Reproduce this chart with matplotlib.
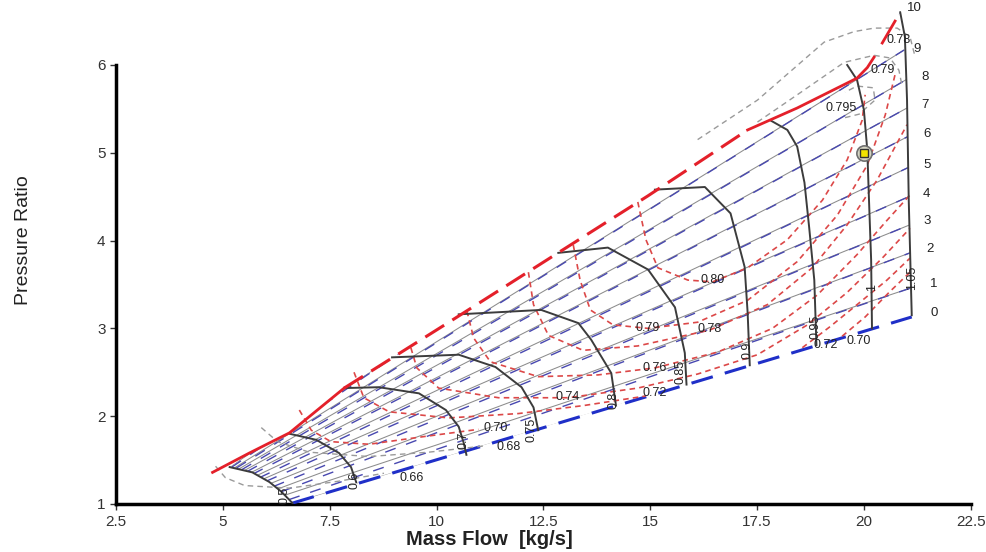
import matplotlib.pyplot as plt
from matplotlib.patches import Polygon

plt.rcParams['font.family'] = ['Liberation Sans', 'DejaVu Sans']
plt.rcParams['lines.scale_dashes'] = False

# ---- axes ----
x_ticks = [2.5, 5, 7.5, 10, 12.5, 15, 17.5, 20, 22.5]
x_tick_labels = ['2.5', '5', '7.5', '10', '12.5', '15', '17.5', '20', '22.5']
y_ticks = [1, 2, 3, 4, 5, 6]

# ---- surge line (pieces) ----
surge_low_x = [4.76, 5.62, 6.56, 7.84]
surge_low_y = [1.36, 1.58, 1.81, 2.32]
surge_mid_x = [7.84, 10.29, 12.78, 14.95, 17.28]
surge_mid_y = [2.32, 3.07, 3.84, 4.51, 5.26]
surge_high_x = [17.28, 18.44, 19.84, 20.08, 20.24]
surge_high_y = [5.26, 5.51, 5.85, 5.97, 6.09]
surge_top_x = [20.43, 20.73]
surge_top_y = [6.25, 6.50]

# ---- speed lines ----
speed_labels = ['0.5', '0.6', '0.7', '0.75', '0.8', '0.85', '0.9', '0.95', '1', '1.05']
speed_x = [
    [5.16, 5.69, 6.09, 6.37, 6.63],
    [6.56, 7.19, 7.72, 8.00, 8.12],
    [7.84, 8.65, 9.59, 10.22, 10.52, 10.64, 10.70],
    [8.96, 10.52, 11.38, 11.99, 12.27, 12.38],
    [10.52, 12.45, 13.32, 13.62, 14.09, 14.20],
    [12.85, 14.01, 14.95, 15.58, 15.81, 15.85],
    [15.11, 16.28, 16.88, 17.21, 17.28, 17.33],
    [17.81, 18.21, 18.44, 18.61, 18.72, 18.84, 18.89],
    [19.61, 19.84, 20.00, 20.08, 20.12, 20.17, 20.19],
    [20.85, 20.96, 21.01, 21.05, 21.12],
]
speed_y = [
    [1.42, 1.36, 1.25, 1.14, 1.01],
    [1.80, 1.73, 1.58, 1.42, 1.25],
    [2.32, 2.33, 2.26, 2.07, 1.88, 1.69, 1.56],
    [2.67, 2.70, 2.56, 2.33, 2.10, 1.84],
    [3.16, 3.21, 3.06, 2.87, 2.49, 2.12],
    [3.86, 3.92, 3.67, 3.24, 2.72, 2.36],
    [4.58, 4.61, 4.31, 3.70, 3.18, 2.58],
    [5.37, 5.26, 5.07, 4.66, 4.15, 3.55, 2.81],
    [6.00, 5.83, 5.49, 5.03, 4.46, 3.78, 3.00],
    [6.60, 6.32, 5.60, 4.46, 3.15],
]
speed_label_x = [6.44, 8.07, 10.64, 12.22, 14.13, 15.72, 17.28, 18.86, 20.19, 21.12]
speed_label_y = [1.10, 1.27, 1.73, 1.84, 2.18, 2.50, 2.75, 3.02, 3.47, 3.57]

# ---- beta lines (gray solid) and blue dashed lines ----
beta_labels = ['0', '1', '2', '3', '4', '5', '6', '7', '8', '9', '10']
beta_x0 = [6.63, 6.45, 6.28, 6.10, 5.93, 5.78, 5.63, 5.50, 5.38, 5.27, 5.16]
beta_y0 = [1.01, 1.10, 1.17, 1.23, 1.28, 1.32, 1.35, 1.38, 1.40, 1.41, 1.42]
beta_x1 = [21.12, 21.10, 21.08, 21.08, 21.05, 21.03, 21.01, 21.01, 20.98, 20.94, 20.85]
beta_y1 = [3.13, 3.46, 3.86, 4.18, 4.50, 4.83, 5.18, 5.51, 5.83, 6.17, 6.60]
blue_x0 = [6.55, 6.37, 6.19, 6.02, 5.86, 5.70, 5.57, 5.44, 5.32, 5.21]
blue_y0 = [1.05, 1.14, 1.20, 1.26, 1.30, 1.34, 1.37, 1.39, 1.41, 1.42]
beta_label_x = [21.64, 21.64, 21.54, 21.47, 21.47, 21.47, 21.47, 21.43, 21.43, 21.24, 21.19]
beta_label_y = [3.18, 3.51, 3.90, 4.22, 4.53, 4.86, 5.21, 5.54, 5.86, 6.18, 6.65]

# ---- efficiency contours ----
red_contours_x = [
    [6.79, 7.07, 7.53, 8.42, 9.59, 10.98],
    [19.49, 20.03, 20.59, 21.08],
    [8.07, 8.30, 8.89, 10.29, 11.92, 13.43, 14.90],
    [18.56, 19.21, 19.89, 20.54, 21.08],
    [9.40, 9.54, 10.05, 11.45, 13.08, 14.71, 16.11, 17.51, 18.68, 19.61, 20.43, 21.08],
    [10.71, 10.87, 11.26, 12.38, 13.78, 15.11, 16.58, 17.86, 18.91, 19.84, 20.54, 21.08],
    [12.15, 12.27, 12.62, 13.43, 14.71, 16.39, 17.74, 18.79, 19.61, 20.31, 21.01],
    [13.20, 13.36, 13.60, 14.13, 14.95, 16.11, 17.28, 18.44, 19.38, 20.08, 20.50, 20.73],
    [14.71, 14.90, 15.18, 15.88, 16.46, 17.28, 18.21, 19.03, 19.61, 19.96, 20.03],
]
red_contours_y = [
    [2.07, 1.84, 1.71, 1.68, 1.76, 1.85],
    [2.91, 3.13, 3.41, 3.64],
    [2.50, 2.21, 2.05, 1.98, 2.03, 2.12, 2.23],
    [2.78, 3.02, 3.29, 3.55, 3.80],
    [2.78, 2.55, 2.32, 2.21, 2.21, 2.32, 2.48, 2.70, 3.04, 3.41, 3.80, 4.14],
    [3.20, 2.89, 2.62, 2.45, 2.47, 2.55, 2.73, 3.00, 3.38, 3.84, 4.23, 4.52],
    [3.64, 3.27, 2.92, 2.75, 2.80, 2.98, 3.27, 3.69, 4.18, 4.69, 5.32],
    [3.95, 3.55, 3.21, 3.04, 3.00, 3.07, 3.32, 3.76, 4.29, 4.86, 5.43, 5.89],
    [4.44, 4.01, 3.69, 3.55, 3.53, 3.69, 4.01, 4.46, 4.92, 5.37, 5.66],
]
gray_contours_x = [
    [4.83, 5.06, 5.51, 6.56, 7.72, 8.77],
    [5.90, 6.28, 7.02, 8.42, 9.82, 11.10],
    [19.56, 19.89, 20.26, 20.22, 19.84, 19.56],
    [16.11, 17.51, 19.07, 19.77, 20.24, 20.78, 21.08, 21.19],
    [17.51, 18.44, 19.54, 20.24, 20.61, 20.82, 20.89],
]
gray_contours_y = [
    [1.43, 1.30, 1.21, 1.18, 1.26, 1.35],
    [1.87, 1.71, 1.59, 1.54, 1.59, 1.66],
    [5.40, 5.44, 5.60, 5.74, 5.76, 5.69],
    [5.15, 5.60, 6.26, 6.38, 6.42, 6.42, 6.32, 6.11],
    [5.35, 5.66, 6.03, 6.11, 6.08, 5.94, 5.77],
]
eff_labels = ['0.66', '0.68', '0.70', '0.74', '0.72', '0.76', '0.79', '0.78',
              '0.80', '0.795', '0.79', '0.78', '0.72', '0.70']
eff_label_x = [9.42, 11.68, 11.38, 13.08, 15.11, 15.11, 14.95, 16.39,
               16.46, 19.46, 20.43, 20.82, 19.10, 19.89]
eff_label_y = [1.30, 1.65, 1.87, 2.22, 2.26, 2.55, 3.00, 2.99,
               3.55, 5.51, 5.94, 6.28, 2.81, 2.86]

# operating point
op_x = [20.0]
op_y = [5.0]

# ---- figure ----
fig = plt.figure(figsize=(9.87, 5.52), dpi=100)
fig.patch.set_facecolor('white')
ax = fig.add_axes([0.1175, 0.087, 0.866, 0.913])
ax.set_xlim(2.5, 22.5)
ax.set_ylim(1, 6.74)

# region between surge, choke and the end speed lines, used to clip the grid lines
clip_x = ([speed_x[0][0]] + surge_low_x[1:] + surge_mid_x[1:] + surge_high_x[1:]
          + surge_top_x + speed_x[-1] + [beta_x0[0]] + speed_x[0][::-1])
clip_y = ([speed_y[0][0]] + surge_low_y[1:] + surge_mid_y[1:] + surge_high_y[1:]
          + surge_top_y + speed_y[-1] + [beta_y0[0]] + speed_y[0][::-1])
region = Polygon(list(zip(clip_x, clip_y)), closed=True, transform=ax.transData)

# gray beta lines
for i in range(len(beta_x0)):
    ln, = ax.plot([beta_x0[i], beta_x1[i]], [beta_y0[i], beta_y1[i]],
                  color='#8c8c8c', lw=0.75, zorder=2)
    ln.set_clip_path(region)

# blue dashed lines
for i in range(len(blue_x0)):
    ln, = ax.plot([blue_x0[i], beta_x1[i + 1]], [blue_y0[i], beta_y1[i + 1]],
                  color='#4848b0', lw=1.0, dashes=(8, 8), zorder=2)
    ln.set_clip_path(region)

# choke line (beta 0) in thick blue dashes
ax.plot([beta_x0[0], beta_x1[0]], [beta_y0[0], beta_y1[0]],
        color='#1f2fc8', lw=2.2, dashes=(16, 9), zorder=3)

# efficiency contours
for cx, cy in zip(gray_contours_x, gray_contours_y):
    ax.plot(cx, cy, color='#9a9a9a', lw=1.0, dashes=(4, 3), zorder=3)
for cx, cy in zip(red_contours_x, red_contours_y):
    ax.plot(cx, cy, color='#dc4848', lw=1.2, dashes=(4, 3), zorder=3)

# speed lines
for sx, sy in zip(speed_x, speed_y):
    ax.plot(sx, sy, color='#3c3c3c', lw=1.4, zorder=4)
for lab, lx, ly in zip(speed_labels, speed_label_x, speed_label_y):
    ax.text(lx, ly, lab, rotation=90, fontsize=9, ha='center', va='center',
            color='#222222', zorder=6)

# surge line
ax.plot(surge_low_x, surge_low_y, color='#e4202a', lw=2.0, zorder=5)
ax.plot(surge_mid_x, surge_mid_y, color='#e4202a', lw=2.2, dashes=(16, 7), zorder=5)
ax.plot(surge_high_x, surge_high_y, color='#e4202a', lw=2.0, zorder=5)
ax.plot(surge_top_x, surge_top_y, color='#e4202a', lw=2.0, zorder=5)

# labels
for lab, lx, ly in zip(eff_labels, eff_label_x, eff_label_y):
    ax.text(lx, ly, lab, fontsize=9, ha='center', va='center', color='#222222', zorder=6)
for lab, lx, ly in zip(beta_labels, beta_label_x, beta_label_y):
    ax.text(lx, ly, lab, fontsize=9.5, ha='center', va='center', color='#222222',
            zorder=6, clip_on=False)

# operating point
ax.plot(op_x, op_y, marker='o', ms=11, mfc='#d6d6c4', mec='#707070', mew=1.2,
        ls='none', zorder=7)
ax.plot(op_x, op_y, marker='s', ms=6, mfc='#f2e400', mec='#333333', mew=1.0,
        ls='none', zorder=8)

# spines & ticks
for s in ['top', 'right']:
    ax.spines[s].set_visible(False)
ax.spines['left'].set_linewidth(2.5)
ax.spines['bottom'].set_linewidth(2.5)
ax.spines['left'].set_bounds(1, 6)
ax.set_xticks(x_ticks)
ax.set_xticklabels(x_tick_labels)
ax.set_yticks(y_ticks)
ax.tick_params(axis='both', labelsize=11, colors='#333333', length=4, width=1)
ax.tick_params(axis='x', pad=4)

fig.text(0.496, 0.022, 'Mass Flow  [kg/s]', fontsize=14.5, fontweight='bold',
         ha='center', va='center', color='#222222')
fig.text(0.024, 0.565, 'Pressure Ratio', fontsize=14, rotation=90,
         ha='center', va='center', color='#222222')

fig.savefig('out.png', dpi=100)
